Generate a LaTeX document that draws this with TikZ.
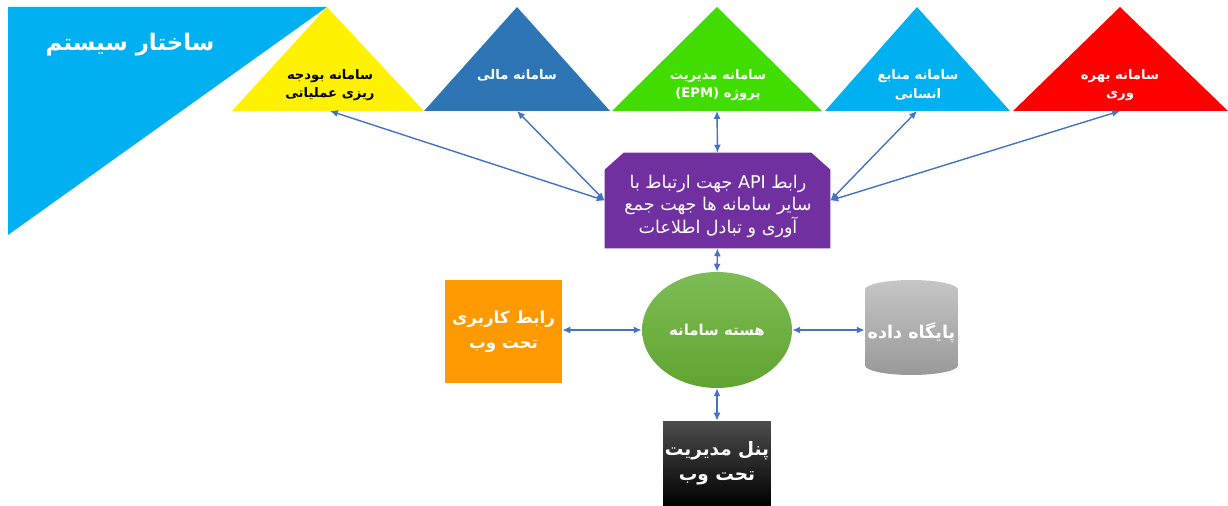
\documentclass[tikz,border=0pt]{standalone}
\usepackage{fontspec}
\newfontfamily\arabicfont[Script=Arabic]{DejaVu Sans}
\TeXXeTstate=1
\usetikzlibrary{shapes.geometric,arrows.meta}
\definecolor{skyblue}{RGB}{0,176,240}
\definecolor{finblue}{RGB}{46,117,182}
\definecolor{pmgreen}{RGB}{66,221,0}
\definecolor{apipurple}{RGB}{112,48,160}
\definecolor{weborange}{RGB}{255,153,0}
\definecolor{linkblue}{RGB}{68,114,196}
\definecolor{corelight}{RGB}{126,188,85}
\definecolor{coredark}{RGB}{96,164,48}
\newcommand{\fa}[1]{\beginR #1\endR}
\begin{document}
\begin{tikzpicture}[
      x=0.02cm, y=-0.02cm,
      every node/.style={text=white, align=center, inner sep=0pt, font=\arabicfont\bfseries\fontsize{9.5}{15}\selectfont},
      trilabel/.style={font=\arabicfont\bfseries\fontsize{7.5}{10.5}\selectfont},
      link/.style={draw=linkblue, line width=0.8pt, {Latex[length=4.5pt,width=4pt]}-{Latex[length=4.5pt,width=4pt]}}
    ]

    \useasboundingbox (0,0) rectangle (1228,506);

    % title corner
    \fill[skyblue] (8,7) -- (327,7) -- (8,235) -- cycle;
    \node[font=\arabicfont\bfseries\fontsize{13}{15}\selectfont] (title) at (130,45) {\fa{ساختار سیستم}};

    % systems on top
    \fill[yellow] (327,7) -- (424,111) -- (232,111) -- cycle;
    \fill[finblue] (517,7) -- (610,111) -- (424,111) -- cycle;
    \fill[pmgreen] (717,7) -- (822,111) -- (612,111) -- cycle;
    \fill[skyblue] (917,7) -- (1010,111) -- (825,111) -- cycle;
    \fill[red] (1120,7) -- (1228,111) -- (1013,111) -- cycle;
    \coordinate (budget) at (330,111);
    \coordinate (finance) at (517,111);
    \coordinate (project) at (717,111);
    \coordinate (hr) at (917,111);
    \coordinate (prod) at (1120,111);

    \node[trilabel, text=black] (budgettxt) at (330,85) {\fa{سامانه بودجه}\\\fa{ریزی عملیاتی}};
    \node[trilabel] (financetxt) at (517,75) {\fa{سامانه مالی}};
    \node[trilabel] (projecttxt) at (718,85) {\fa{سامانه مدیریت}\\\fa{پروژه \beginL(EPM)\endL}};
    \node[trilabel] (hrtxt) at (918,85) {\fa{سامانه منابع}\\\fa{انسانی}};
    \node[trilabel] (prodtxt) at (1120,85) {\fa{سامانه بهره}\\\fa{وری}};

    % api
    \node[minimum width=4.5cm, minimum height=1.9cm] (api) at (717.5,200.5) {};
    \fill[apipurple] (api.south west) -- ([yshift=-0.34cm]api.north west) -- ([xshift=0.38cm]api.north west)
          -- ([xshift=-0.38cm]api.north east) -- ([yshift=-0.34cm]api.north east) -- (api.south east) -- cycle;
    \node[font=\arabicfont\fontsize{10}{12.8}\selectfont] (apitxt) at (718,206)
          {\fa{رابط \beginL API\endL{} جهت ارتباط با}\\\fa{سایر سامانه ها جهت جمع}\\\fa{آوری و تبادل  اطلاعات}};

    % core and around it
    \node[ellipse, top color=corelight, bottom color=coredark, minimum width=3cm, minimum height=2.32cm,
          font=\arabicfont\bfseries\fontsize{8.5}{12}\selectfont] (core) at (717,330) {\fa{هسته سامانه}};
    \node[fill=weborange, minimum width=2.34cm, minimum height=2.06cm, font=\arabicfont\bfseries\fontsize{9.5}{14}\selectfont] (web) at (503.5,331.5) {\fa{رابط کاربری}\\\fa{تحت وب}};
    \node[cylinder, shape border rotate=90, aspect=0.22, top color=gray!45, bottom color=gray!80,
          minimum width=1.86cm, minimum height=1.9cm, font=\arabicfont\bfseries\fontsize{10}{14}\selectfont] (db) at (911.5,332.5) {\fa{پایگاه داده}};
    \node[top color=black!70, bottom color=black, minimum width=2.16cm, minimum height=1.7cm, font=\arabicfont\bfseries\fontsize{10.5}{14}\selectfont] (panel) at (717,463.5) {\fa{پنل مدیریت}\\\fa{تحت وب}};

    % links
    \draw[link] (api.west) -- (budget);
    \draw[link] (api.west) -- (finance);
    \draw[link] (api.north) -- (project);
    \draw[link] (api.east) -- (hr);
    \draw[link] (api.east) -- (prod);
    \draw[link] (api.south) -- (core.north);
    \draw[link] (core.west) -- (core.west -| web.east);
    \draw[link] (core.east) -- (core.east -| db.west);
    \draw[link] (core.south) -- (panel.north);

\end{tikzpicture}
\end{document}
